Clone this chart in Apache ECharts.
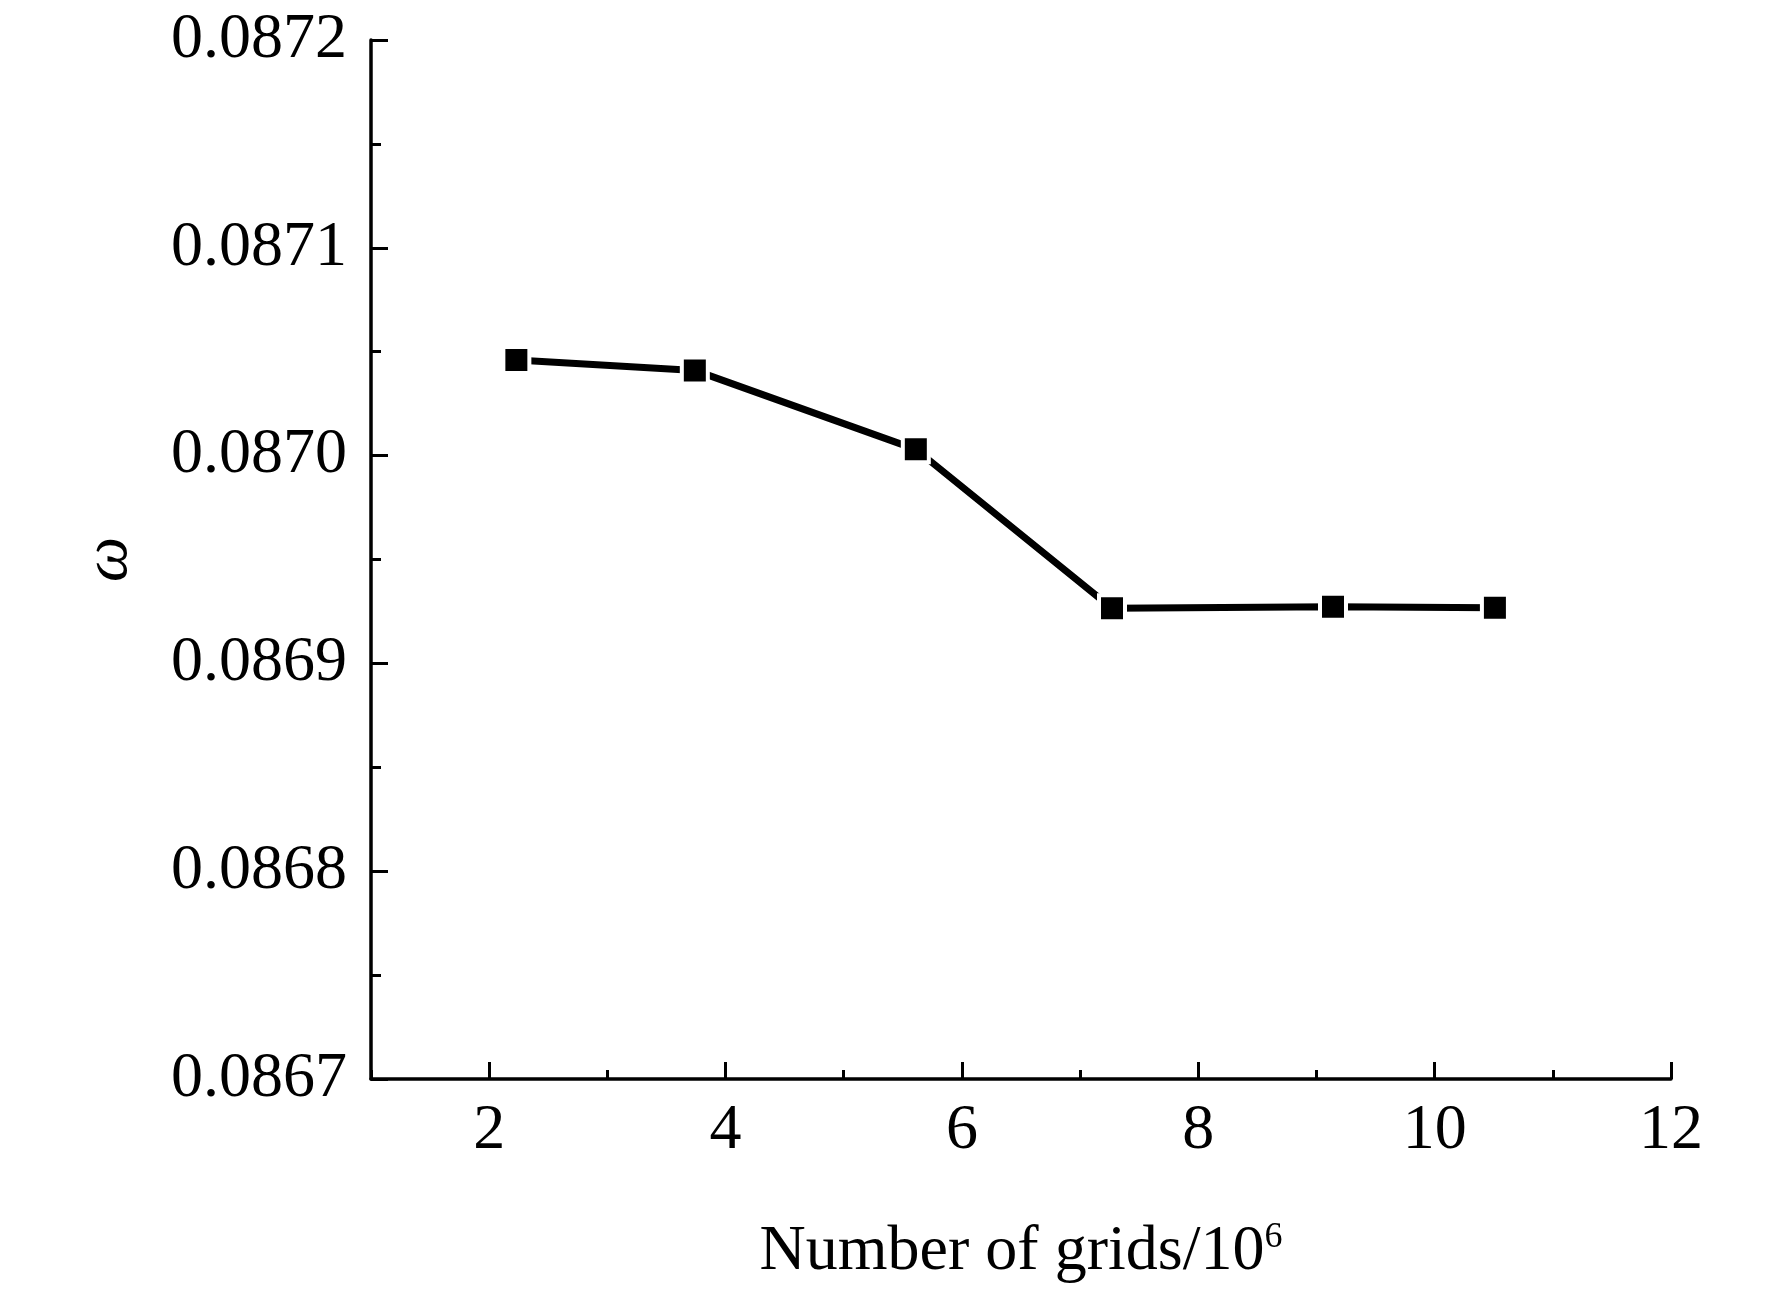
<!DOCTYPE html>
<html>
<head>
<meta charset="utf-8">
<title>Grid independence</title>
<script src="https://cdn.jsdelivr.net/npm/echarts@6/dist/echarts.min.js"></script>
<style>
  html, body { margin: 0; padding: 0; background: #fff; }
  #chart { width: 1772px; height: 1289px; }
</style>
</head>
<body>
<div id="chart"></div>
<script>
// grid count (millions) and omega values
const gridCounts = [2.23, 3.74, 5.61, 7.27, 9.14, 10.51];
const omegaValues = [0.087046, 0.087041, 0.087003, 0.0869265, 0.0869273, 0.0869268];
const xMajorTicks = [2, 4, 6, 8, 10, 12];

const font = 'Liberation Serif, Times New Roman, serif';
const chart = echarts.init(document.getElementById('chart'), null, { renderer: 'canvas' });

const baseX = {
  type: 'value',
  min: 1,
  max: 12,
  splitLine: { show: false }
};

chart.setOption({
  backgroundColor: '#fff',
  animation: false,
  grid: { left: 371, top: 40, right: 101, bottom: 210 },
  xAxis: [
    Object.assign({}, baseX, {
      name: 'Number of grids/10{sup|6}',
      nameLocation: 'middle',
      nameGap: 141,
      nameTextStyle: {
        fontFamily: font, fontSize: 64, color: '#000',
        rich: { sup: { fontFamily: font, fontSize: 36, color: '#000', verticalAlign: 'top' } }
      },
      axisLine: { lineStyle: { color: '#000', width: 3.5 } },
      axisTick: { inside: true, length: 17, customValues: xMajorTicks, lineStyle: { color: '#000', width: 3 } },
      axisLabel: { customValues: xMajorTicks, margin: 20, fontFamily: font, fontSize: 64, color: '#000' }
    }),
    // minor ticks at every integer
    Object.assign({}, baseX, {
      interval: 1,
      position: 'bottom',
      axisLine: { show: false },
      axisTick: { inside: true, length: 9, lineStyle: { color: '#000', width: 3 } },
      axisLabel: { show: false }
    })
  ],
  yAxis: {
    type: 'value',
    min: 0.0867,
    max: 0.0872,
    interval: 0.0001,
    name: 'ω',
    nameLocation: 'middle',
    nameGap: 230,
    nameRotate: 90,
    nameTextStyle: { fontFamily: font, fontSize: 64, fontStyle: 'italic', color: '#000' },
    splitLine: { show: false },
    axisLine: { show: true, lineStyle: { color: '#000', width: 3.5 } },
    axisTick: { show: true, inside: true, length: 17, lineStyle: { color: '#000', width: 3 } },
    minorTick: { show: true, splitNumber: 2, length: 10, lineStyle: { color: '#000', width: 3 } },
    axisLabel: {
      margin: 24,
      fontFamily: font, fontSize: 64, color: '#000',
      formatter: v => v.toFixed(4)
    }
  },
  series: [{
    type: 'line',
    xAxisIndex: 0,
    data: gridCounts.map((x, i) => [x, omegaValues[i]]),
    symbol: 'rect',
    symbolSize: 26,
    lineStyle: { color: '#000', width: 7, cap: 'round' },
    itemStyle: { color: '#000', borderColor: '#fff', borderWidth: 4 }
  }]
});
</script>
</body>
</html>
